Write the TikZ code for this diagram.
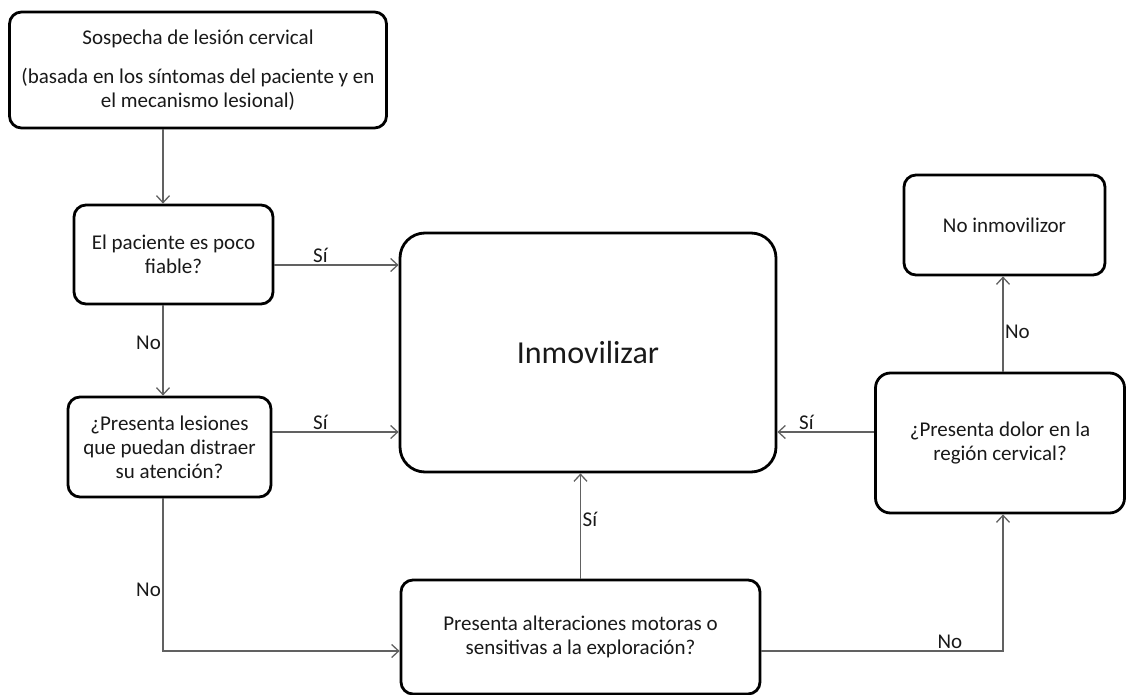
\documentclass[tikz,border=0pt]{standalone}
\usepackage{fontspec}
\setmainfont{Carlito}
\usetikzlibrary{arrows.meta,calc}
\begin{document}
\begin{tikzpicture}[x=1pt,y=-1pt,
  box/.style={draw=black, line width=2.8pt, rounded corners=12pt, fill=white, align=center, inner sep=0pt, font=\fontsize{21}{24}\selectfont, text=black!90},
  arr/.style={draw=black!62, line width=1.3pt, -{Straight Barb[length=7pt,width=13pt,line width=1.3pt]}},
  lab/.style={font=\fontsize{21}{24}\selectfont, inner sep=1.5pt, text=black!90}]
\useasboundingbox (0,0) rectangle (1126,695);
% nodes
\node[box, minimum width=377pt, minimum height=116pt] (b1) at (198,70)
  {Sospecha de lesión cervical\\[15pt](basada en los síntomas del paciente y en\\el mecanismo lesional)};
\node[box, minimum width=199pt, minimum height=99pt] (b2) at (173.5,254.5)
  {El paciente es poco\\fiable?};
\node[box, minimum width=203pt, minimum height=100pt] (b3) at (169.5,447)
  {¿Presenta lesiones\\que puedan distraer\\su atención?};
\node[box, rounded corners=25pt, minimum width=376pt, minimum height=239pt, font=\fontsize{32}{38}\selectfont] (inm) at (588,352.5)
  {Inmovilizar};
\node[box, minimum width=359pt, minimum height=114pt] (b4) at (580.5,637)
  {Presenta alteraciones motoras o\\sensitivas a la exploración?};
\node[box, rounded corners=15pt, minimum width=249pt, minimum height=140pt] (b5) at (1000,443)
  {¿Presenta dolor en la\\región cervical?};
\node[box, minimum width=201pt, minimum height=100pt] (b6) at (1004.5,225)
  {No inmovilizor};
% helper coordinates
\coordinate (cx) at (163,0);
\coordinate (cx2) at (1003,0);
\coordinate (y1) at (0,265);
\coordinate (y2) at (0,432);
\coordinate (y3) at (0,651);
% connectors
\draw[arr] (b1.south -| cx) -- (b2.north -| cx);
\draw[arr] (b2.south -| cx) -- node[lab, left, pos=0.41]{No} (b3.north -| cx);
\draw[arr] (b2.east |- y1) -- node[lab, above, pos=0.37]{Sí} (inm.west |- y1);
\draw[arr] (b3.east |- y2) -- node[lab, above, pos=0.38]{Sí} (inm.west |- y2);
\draw[arr] (b3.south -| cx) |- node[lab, left, pos=0.3]{No} (b4.west |- y3);
\draw[arr] (b4.north) -- node[lab, right, pos=0.56]{Sí} (b4.north |- inm.south);
\draw[arr] (b4.east |- y3) -| node[lab, above, pos=0.39]{No} (b5.south -| cx2);
\draw[arr] (b5.west |- y2) -- node[lab, above, pos=0.7]{Sí} (inm.east |- y2);
\draw[arr] (b5.north -| cx2) -- node[lab, right, pos=0.42]{No} (b6.south -| cx2);
\end{tikzpicture}
\end{document}
